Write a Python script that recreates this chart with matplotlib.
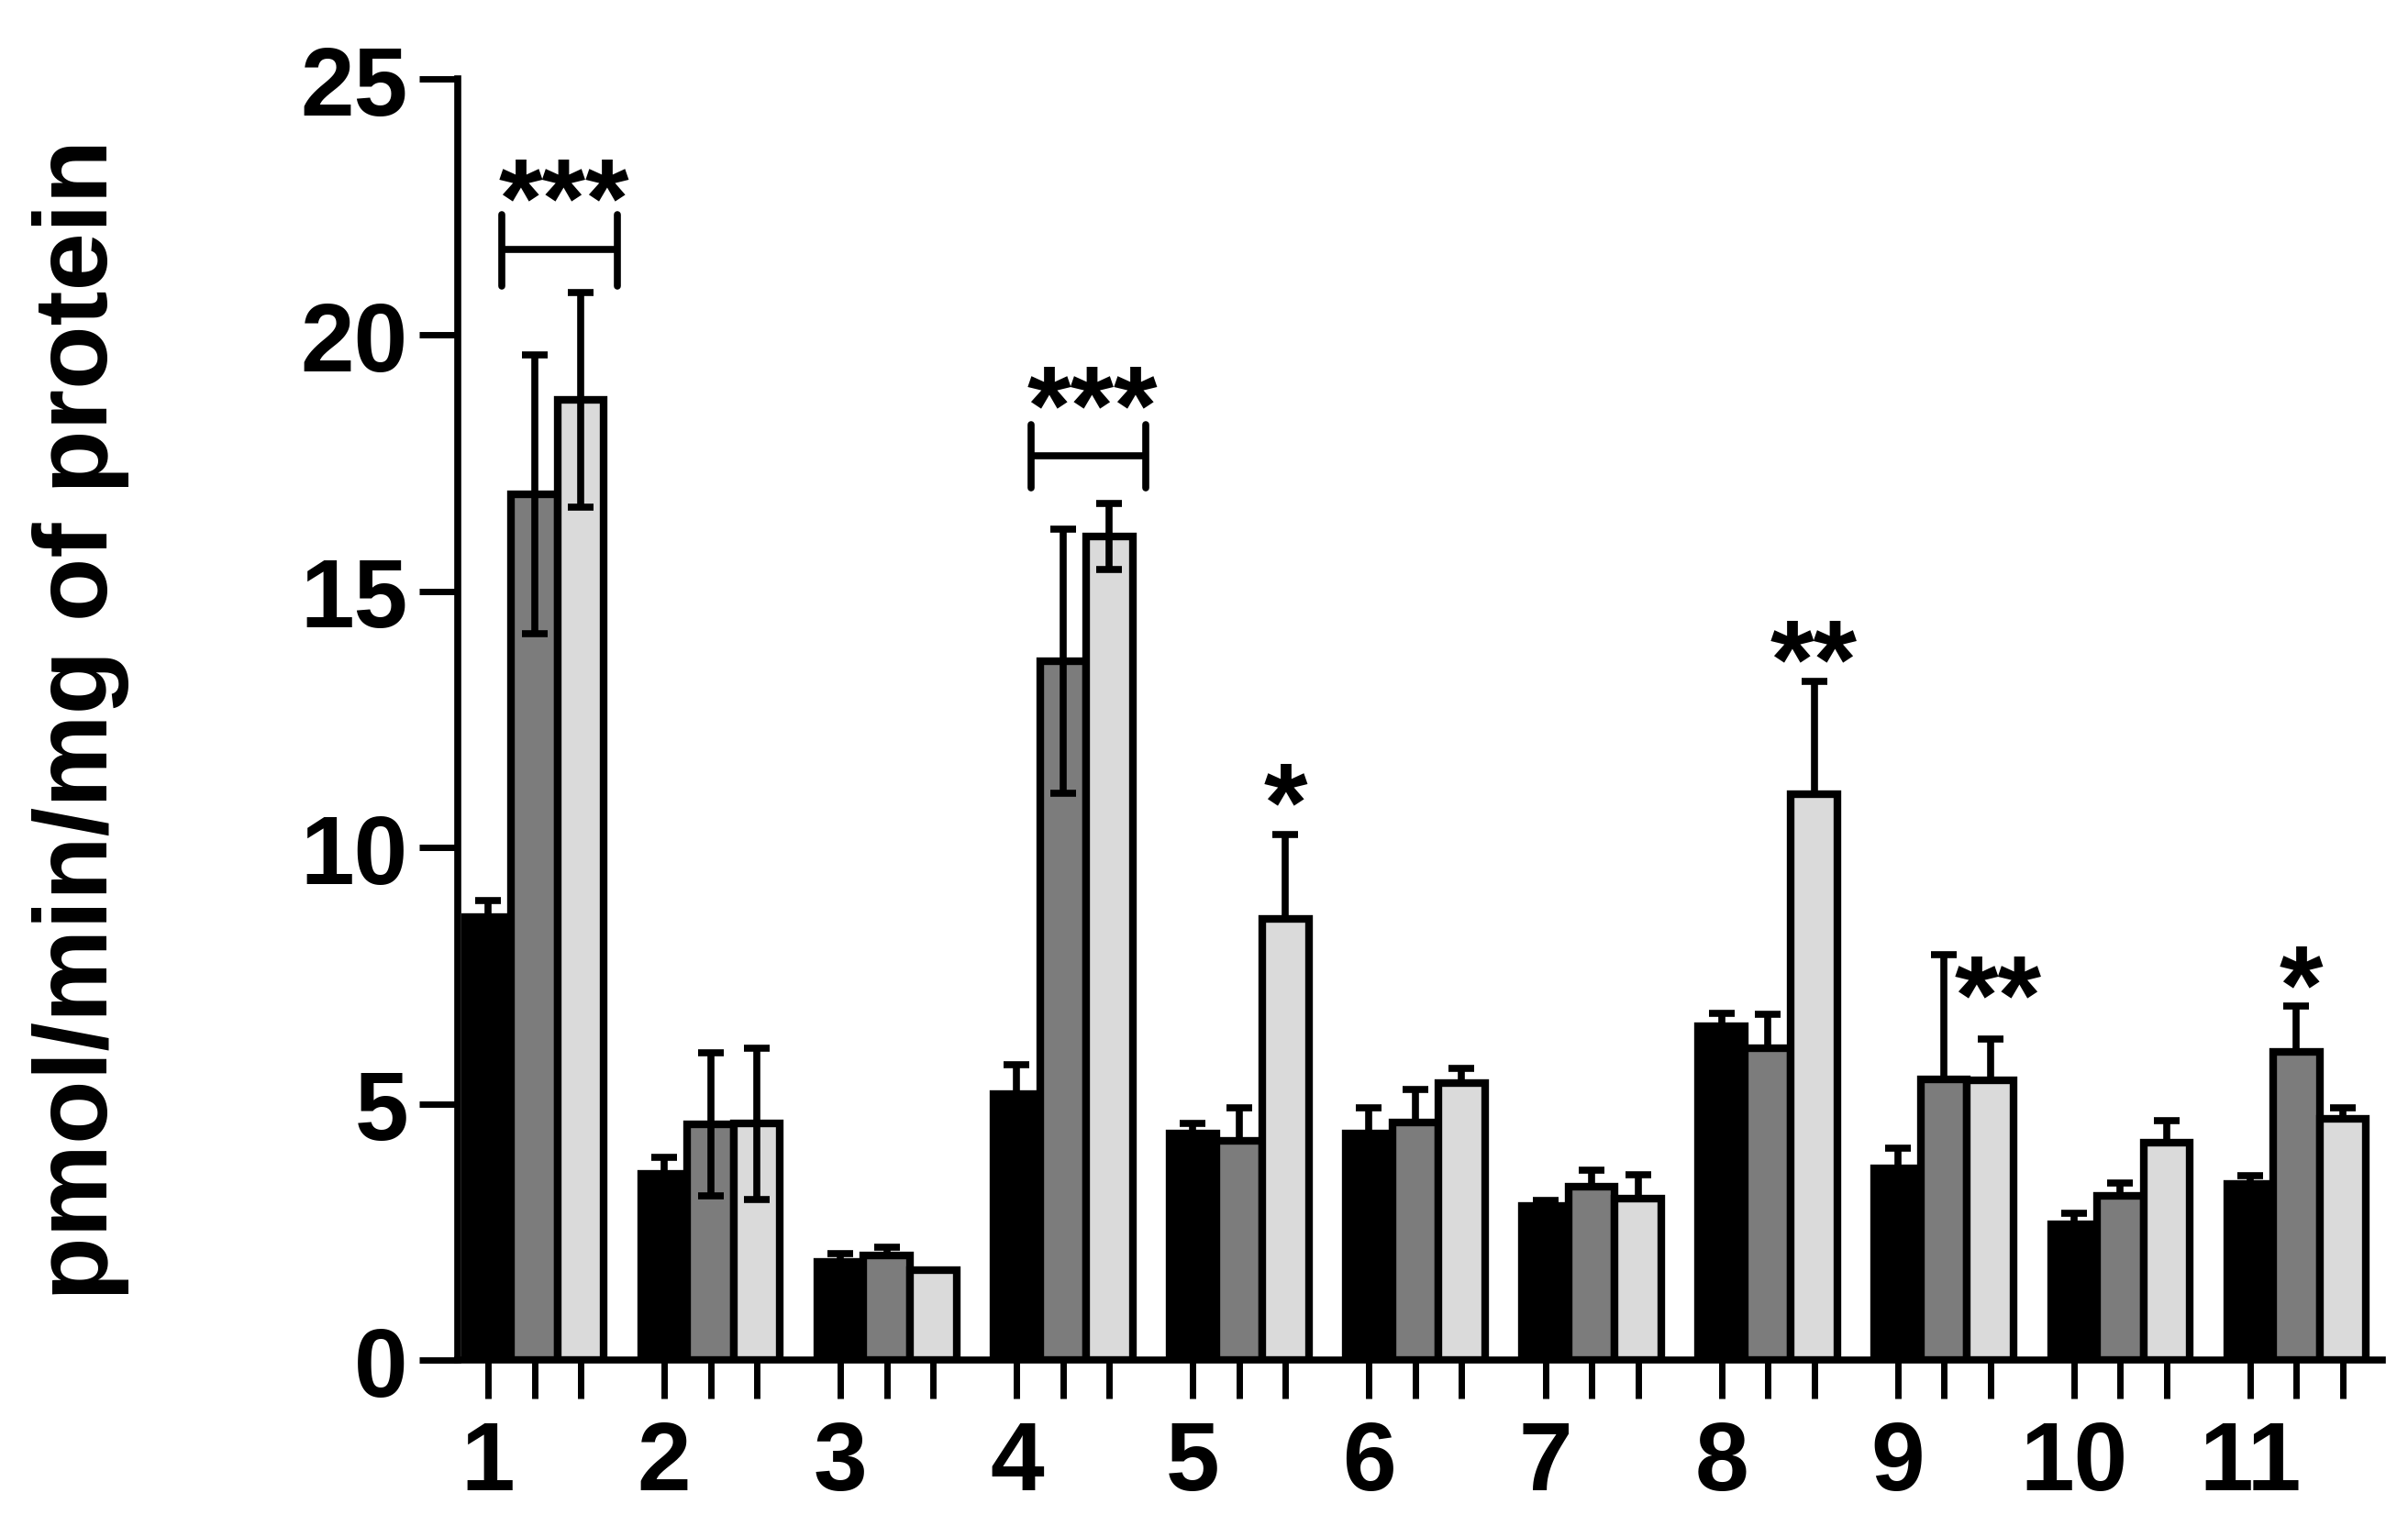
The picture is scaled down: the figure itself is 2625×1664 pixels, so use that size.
import matplotlib.pyplot as plt
import numpy as np

plt.rcParams['font.family'] = ['Liberation Sans', 'DejaVu Sans']
plt.rcParams['font.weight'] = 'bold'

groups = ['1', '2', '3', '4', '5', '6', '7', '8', '9', '10', '11']

black = [8.65, 3.63, 1.91, 5.19, 4.42, 4.42, 3.01, 6.52, 3.74, 2.64, 3.44]
black_err = [0.32, 0.32, 0.16, 0.57, 0.20, 0.50, 0.10, 0.24, 0.40, 0.23, 0.15]
gray = [16.9, 4.60, 2.04, 13.64, 4.28, 4.64, 3.39, 6.08, 5.47, 3.20, 6.01]
gray_err = [2.72, 1.40, 0.16, 2.58, 0.64, 0.64, 0.32, 0.66, 2.44, 0.25, 0.90]
light = [18.74, 4.61, 1.75, 16.07, 8.60, 5.40, 3.15, 11.04, 5.46, 4.24, 4.70]
light_err = [2.10, 1.47, 0.0, 0.65, 1.66, 0.30, 0.47, 2.20, 0.80, 0.43, 0.22]
# groups where the error bar is drawn both ways
two_sided = [1, 2, 4]

# significance marks: (group, offset inside group, y of text centre, text)
stars = [(1, 0.43, 23.15, '***'), (4, 0.43, 19.1, '***'), (5, 0.526, 11.35, '*'),
         (8, 0.526, 14.15, '**'), (9, 0.57, 7.6, '**'), (11, 0.29, 7.8, '*')]
brackets = [(1, 21.67, 20.96, 22.35), (4, 17.64, 17.02, 18.25)]

w = 0.263
x = np.arange(1, len(groups) + 1)

fig = plt.figure(figsize=(26.25, 16.65), dpi=100)
ax = fig.add_axes([0.1901, 0.1087, 0.7992, 0.8390])

series = [(black, black_err, 'black'), (gray, gray_err, '#7c7c7c'), (light, light_err, '#dadada')]
for j, (vals, errs, col) in enumerate(series):
    xs = x + j * w
    ax.bar(xs, vals, width=w, color=col, edgecolor='black', linewidth=6, zorder=1)
    for i in range(len(groups)):
        if errs[i] <= 0:
            continue
        lo = errs[i] if (j > 0 and (i + 1) in two_sided) else 0
        ax.errorbar(xs[i], vals[i], yerr=[[lo], [errs[i]]], fmt='none', ecolor='black',
                    elinewidth=5.5, capsize=10, capthick=5.5, zorder=3)

for g, h, lo, hi in brackets:
    x0, x1 = g + 0.08, g + 0.735
    ax.plot([x0, x1], [h, h], color='black', lw=5.5, solid_capstyle='butt')
    ax.plot([x0, x0], [lo, hi], color='black', lw=5.5, solid_capstyle='round')
    ax.plot([x1, x1], [lo, hi], color='black', lw=5.5, solid_capstyle='round')

for g, off, yc, s in stars:
    ax.text(g + off, yc - 1.2, s, ha='center', va='baseline', fontsize=88, fontweight='bold')

ax.set_xlim(0.828, 11.75)
ax.set_ylim(0, 25)
ax.set_yticks([0, 5, 10, 15, 20, 25])

ticks = np.concatenate([x + j * w for j in range(3)])
labels = list(groups) + [''] * (2 * len(groups))
ax.set_xticks(ticks)
ax.set_xticklabels(labels)

for s in ['top', 'right']:
    ax.spines[s].set_visible(False)
for s in ['left', 'bottom']:
    ax.spines[s].set_linewidth(5.5)

ax.tick_params(axis='both', direction='out', length=30, width=5, labelsize=76)
ax.tick_params(axis='x', pad=16)
ax.tick_params(axis='y', pad=9)

fig.text(0.0135, 0.5285, 'pmol/min/mg of protein', rotation=90, ha='left', va='center',
         fontsize=82, fontweight='bold')

fig.savefig('out.png', dpi=100)
